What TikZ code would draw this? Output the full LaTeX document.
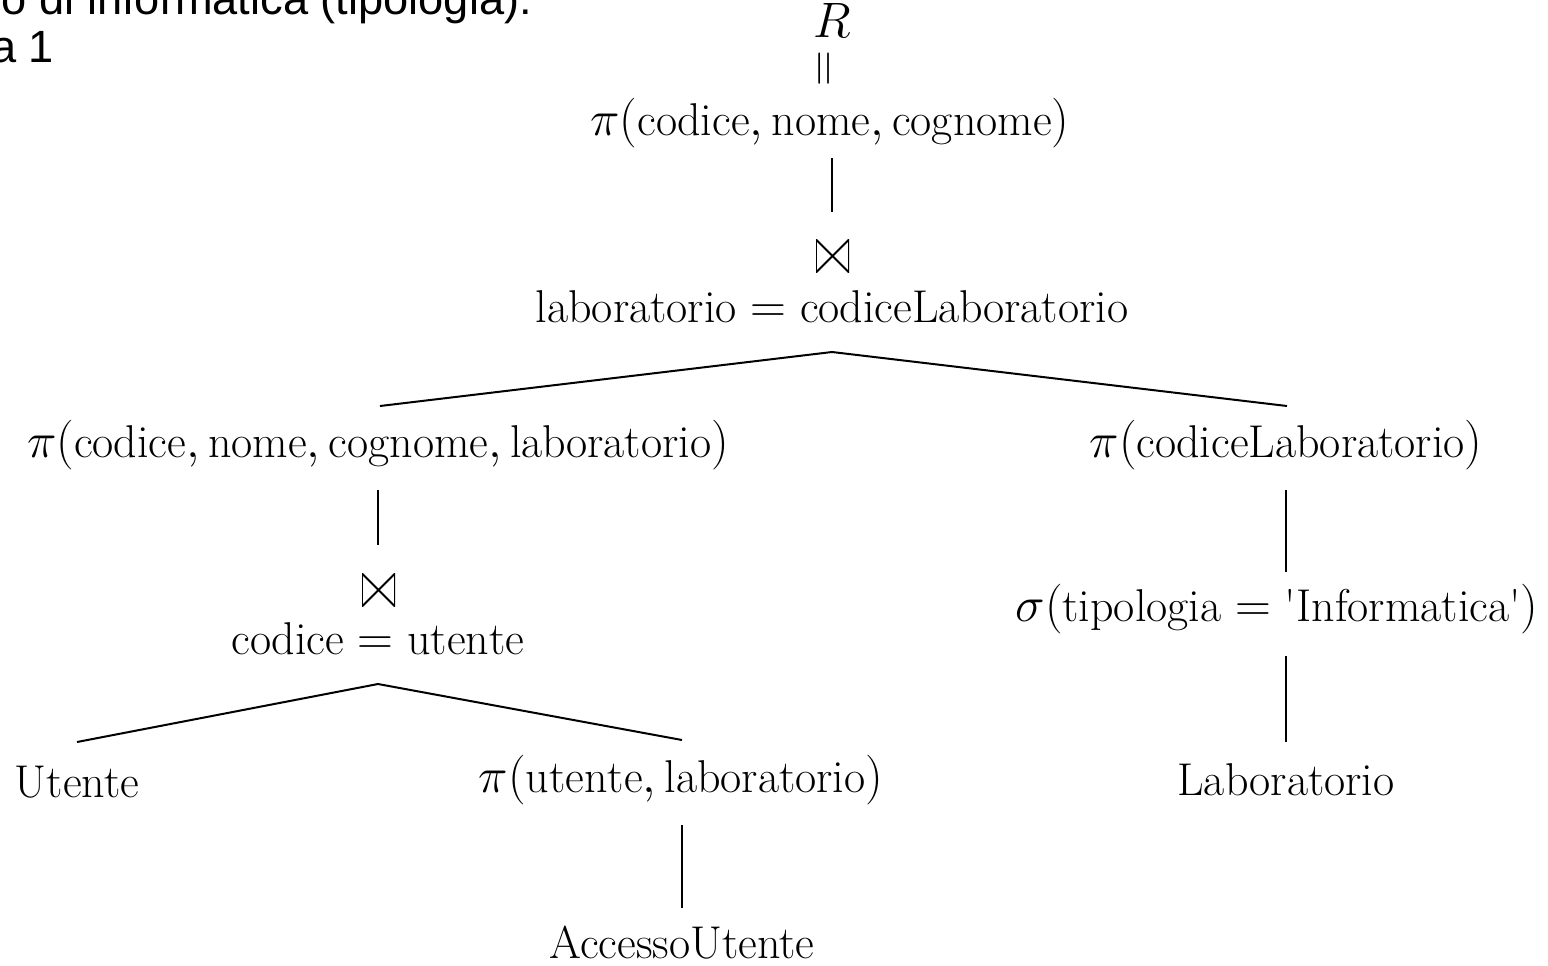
\documentclass[tikz,border=0pt]{standalone}
\usepackage{amssymb}
\usepackage{fontspec}
\newfontfamily\hdrfont{Liberation Sans}
\begin{document}
\begin{tikzpicture}[x=0.5pt,y=-0.5pt,
  every node/.style={inner sep=0pt,outer sep=0pt},
  op/.style={anchor=base,font=\fontsize{23}{28}\selectfont},
  hdr/.style={anchor=base east,font=\hdrfont\fontsize{22.6}{26}\selectfont},
  joinsym/.style={minimum width=16.5pt,minimum height=16.5pt,
    path picture={\draw[line width=0.9pt,line join=miter]
      (path picture bounding box.south west) -- (path picture bounding box.north west)
      -- (path picture bounding box.south east) -- (path picture bounding box.north east)
      -- cycle;}},
  edge/.style={line width=1pt}]
\useasboundingbox (0,0) rectangle (1548,965);
\clip (0,0) rectangle (1548,965);

% text running in from the page above
\node[hdr] (h1) at (532,14) {laboratorio di informatica (tipologia):};
\node[hdr] (h2) at (54,62) {Procedura 1};

% root
\node[op] (r) at (832,37) {$R$};
\node[op,anchor=center,rotate=90] (eq) at (828,69) {$=$};
\node[op] (p1) at (830,135) {$\pi(\mathrm{codice},\mathrm{nome},\mathrm{cognome})$};

\node[joinsym] (j1) at (832.5,256) {};
\node[op] (c1) at (832,322) {$\mathrm{laboratorio}=\mathrm{codiceLaboratorio}$};

% left branch
\node[op] (p2) at (378,457) {$\pi(\mathrm{codice},\mathrm{nome},\mathrm{cognome},\mathrm{laboratorio})$};
\node[joinsym] (j2) at (378.5,590) {};
\node[op] (c2) at (378,654) {$\mathrm{codice}=\mathrm{utente}$};
\node[op] (ut) at (77,797) {Utente};
\node[op] (p3) at (681,792) {$\pi(\mathrm{utente},\mathrm{laboratorio})$};
\node[op] (au) at (682,958) {AccessoUtente};

% right branch
\node[op] (p4) at (1286,457) {$\pi(\mathrm{codiceLaboratorio})$};
\node[op] (s1) at (1277,621) {$\sigma(\mathrm{tipologia}=\mbox{\textquotesingle Informatica\textquotesingle})$};
\node[op] (lab) at (1286,795) {Laboratorio};

% connector end points
\coordinate (p1s) at (832,158);
\coordinate (j1n) at (832,212);
\coordinate (c1s) at (832,352);
\coordinate (p2n) at (380,406);
\coordinate (p4n) at (1287,406);
\coordinate (p2s) at (378,490);
\coordinate (j2n) at (378,545);
\coordinate (c2s) at (378,684);
\coordinate (utn) at (77,742);
\coordinate (p3n) at (682,740);
\coordinate (p3s) at (682,825);
\coordinate (aun) at (682,908);
\coordinate (p4s) at (1286,490);
\coordinate (s1n) at (1286,572);
\coordinate (s1s) at (1286,656);
\coordinate (labn) at (1286,742);

\draw[edge] (p1s) -- (j1n);
\draw[edge] (p2n) -- (c1s) -- (p4n);
\draw[edge] (p2s) -- (j2n);
\draw[edge] (utn) -- (c2s) -- (p3n);
\draw[edge] (p3s) -- (aun);
\draw[edge] (p4s) -- (s1n);
\draw[edge] (s1s) -- (labn);
\end{tikzpicture}
\end{document}
